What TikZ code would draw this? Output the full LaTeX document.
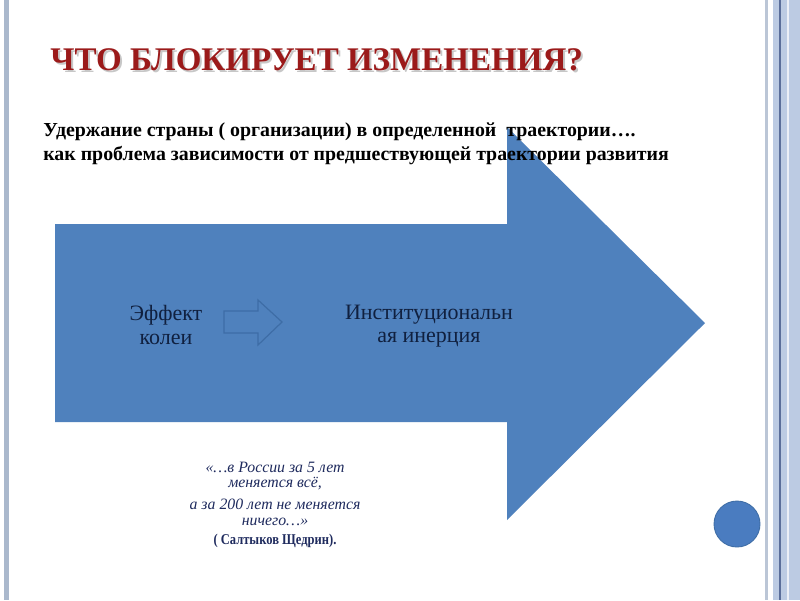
\documentclass[tikz,border=0pt]{standalone}
\usepackage{fontspec}
\setmainfont{Liberation Serif}
\usepackage{xcolor}
\usepackage{tikz}
\usetikzlibrary{positioning}
\definecolor{slideblue}{HTML}{4F81BD}
\definecolor{edgeblue}{HTML}{3E6DA6}
\definecolor{dotblue}{HTML}{4A7CC0}
\definecolor{titlered}{HTML}{9B1A1A}
\definecolor{quotenavy}{HTML}{1F2B5E}
\definecolor{innerink}{HTML}{10203F}
\definecolor{framegray}{HTML}{AAB8CC}
\definecolor{framelight}{HTML}{BCCBE3}
\definecolor{framedark}{HTML}{5A6E9A}

\begin{document}
\begin{tikzpicture}[
  x=0.02cm, y=-0.02cm,
  node distance=2.5pt,
  heading/.style={font=\fontsize{18.8}{20}\selectfont\bfseries, text=titlered, anchor=base west, inner sep=0pt},
  bodyline/.style={font=\fontsize{11.3}{13}\selectfont\bfseries, anchor=base west, inner sep=0pt},
  inner/.style={font=\fontsize{12.5}{13.5}\selectfont, text=innerink, align=center},
  quote/.style={font=\fontsize{9}{9}\selectfont\itshape, text=quotenavy, align=center, inner sep=1pt}
]
\useasboundingbox (0,0) rectangle (800,600);
\fill[white] (0,0) rectangle (800,600);
% frame
\fill[framegray] (4,0) rectangle (9,600);
\fill[framegray!80] (765,0) rectangle (768,600);
\fill[framelight] (773,0) rectangle (800,600);
\draw[framedark, line width=0.6pt] (780,0) -- (780,600);
\draw[white!70!framelight, line width=0.8pt] (788,0) -- (788,600);

% big arrow
\fill[slideblue] (55,224) -- (507,224) -- (507,127) -- (705,323)
  -- (507,520) -- (507,422) -- (55,422) -- cycle;
% small arrow
\draw[edgeblue, fill=slideblue, line width=0.7pt] (224,311) -- (258,311) -- (258,300)
  -- (282,322) -- (258,345) -- (258,333) -- (224,333) -- cycle;
% dot
\fill[dotblue, draw=edgeblue, line width=0.5pt] (737,524) circle (23);

% title
\node[heading, text=black!22] at (52,72) {ЧТО БЛОКИРУЕТ ИЗМЕНЕНИЯ?};
\node[heading] (title) at (50,70) {ЧТО БЛОКИРУЕТ ИЗМЕНЕНИЯ?};

\node[bodyline] (line1) at (43,136) {Удержание страны ( организации) в определенной \ траектории….};
\node[bodyline] (line2) at (43,160) {как проблема зависимости от предшествующей траектории развития};

\node[inner] (wheel) at (166,325) {Эффект\\колеи};
\node[inner] (inertia) at (429,326) {Институциональн\\ая инерция};

\node[quote] (q1) at (275,476) {«…в России за 5 лет\\меняется всё,};
\node[quote, below=of q1] (q2) {а за 200 лет не меняется\\ничего…»};
\node[quote, below=of q2, font=\fontsize{8.5}{10}\selectfont\bfseries\addfontfeatures{FakeStretch=0.84}] (q3) {( Салтыков Щедрин).};
\end{tikzpicture}
\end{document}
